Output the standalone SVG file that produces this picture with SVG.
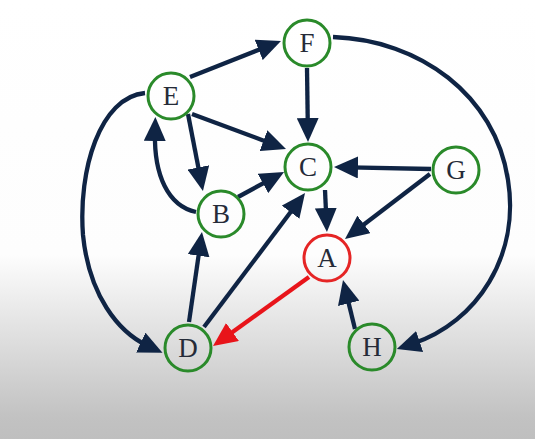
<svg xmlns="http://www.w3.org/2000/svg" width="535" height="439" viewBox="0 0 535 439">
<defs>
<linearGradient id="bg" x1="0" y1="0" x2="0" y2="439" gradientUnits="userSpaceOnUse">
<stop offset="0" stop-color="#ffffff"/>
<stop offset="0.58" stop-color="#fdfdfd"/>
<stop offset="0.95" stop-color="#c2c2c2"/>
<stop offset="1" stop-color="#bfbfbf"/>
</linearGradient>
<marker id="ah" markerUnits="userSpaceOnUse" markerWidth="24" markerHeight="22" refX="8" refY="11" orient="auto" viewBox="0 0 24 22">
<path d="M0,0 L24,11 L0,22 z" fill="#0f2444"/>
</marker>
<marker id="ahr" markerUnits="userSpaceOnUse" markerWidth="24" markerHeight="22" refX="8" refY="11" orient="auto" viewBox="0 0 24 22">
<path d="M0,0 L24,11 L0,22 z" fill="#e8141a"/>
</marker>
</defs>
<style>
.e{fill:none;stroke:#0f2444;stroke-width:4.3;marker-end:url(#ah)}
.er{fill:none;stroke:#e8141a;stroke-width:4.3;marker-end:url(#ahr)}
.n circle{fill:none;stroke:#2a8a2a;stroke-width:3}
.n.red circle{stroke:#e52525}
.n text{font-family:"Liberation Serif","Times New Roman",serif;font-size:27px;fill:#252b38;text-anchor:middle}
</style>
<rect x="0" y="0" width="535" height="439" fill="url(#bg)"/>
<g id="connectors">
<path class="e" d="M190,77 L266.1,46.9"/>
<path class="e" d="M307,68 L307.8,126"/>
<path class="e" d="M192,114 L271,143.4"/>
<path class="e" d="M188,114 L199.9,175.3"/>
<path class="e" d="M196,212 C168,206 154,175 155,133"/>
<path class="e" d="M238,197 L270,179.6"/>
<path class="e" d="M325,190 L326.2,216"/>
<path class="e" d="M431,169 L350,167.3"/>
<path class="e" d="M430,174 L357.7,229.3"/>
<path class="e" d="M189,322 L199.7,247.8"/>
<path class="e" d="M204,327 L295.4,205.8"/>
<path class="er" d="M309,277 L226,336.7"/>
<path class="e" d="M355,329 L346.8,295.6"/>
<path class="e" d="M145,93 C100,97 78,170 83,235 C89,295 118,332 148,346"/>
<path class="e" d="M333,37 C420,40 495,95 508,180 C520,255 478,322 412,344"/>
</g>
<g id="node-F" class="n"><circle cx="307" cy="43" r="23"/><text x="307" y="52">F</text></g>
<g id="node-E" class="n"><circle cx="171" cy="96" r="23"/><text x="171" y="105">E</text></g>
<g id="node-C" class="n"><circle cx="308" cy="167" r="23"/><text x="308" y="176">C</text></g>
<g id="node-G" class="n"><circle cx="456" cy="170" r="23"/><text x="456" y="179">G</text></g>
<g id="node-B" class="n"><circle cx="221" cy="214" r="23"/><text x="221" y="223">B</text></g>
<g id="node-A" class="n red"><circle cx="327" cy="258" r="23"/><text x="327" y="267">A</text></g>
<g id="node-D" class="n"><circle cx="188" cy="348" r="23"/><text x="188" y="357">D</text></g>
<g id="node-H" class="n"><circle cx="372" cy="347" r="23"/><text x="372" y="356">H</text></g>
</svg>
